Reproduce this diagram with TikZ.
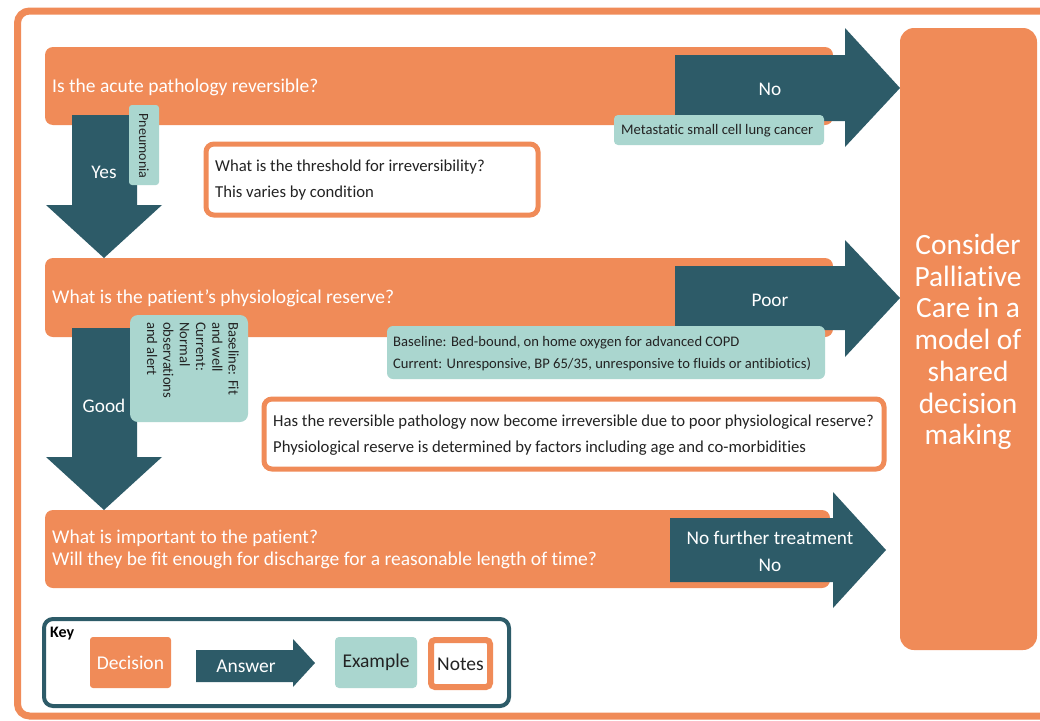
\documentclass[tikz,border=0pt]{standalone}
\usepackage{fontspec}
\setmainfont{Carlito}[Ligatures={NoCommon,NoContextual,NoRequired}]
\definecolor{dec}{RGB}{240,139,88}
\definecolor{ans}{RGB}{45,91,104}
\definecolor{exm}{RGB}{170,214,207}
\definecolor{txt}{RGB}{35,35,35}
\begin{document}
\begin{tikzpicture}[x=1pt,y=-1pt,
  decbar/.style={fill=dec, rounded corners=8pt},
  ansfill/.style={fill=ans},
  exmbox/.style={fill=exm, rounded corners=5pt},
  notebox/.style={draw=dec, line width=5pt, fill=white, rounded corners=8pt},
  dectext/.style={text=white, font=\fontsize{19.5}{22}\selectfont, inner sep=0pt, anchor=west, align=left},
  anstext/.style={text=white, font=\fontsize{19.3}{27}\selectfont, inner sep=0pt, align=center},
  exmtext/.style={text=txt, font=\fontsize{14.6}{22}\selectfont, inner sep=0pt, align=left},
  notetext/.style={text=txt, font=\fontsize{16.7}{25.5}\selectfont, inner sep=0pt, anchor=west, align=left},
  keytext/.style={font=\fontsize{19.5}{22}\selectfont, inner sep=0pt},
]
\useasboundingbox (0,0) rectangle (1040,720);
\clip (0,0) rectangle (1040,720);
\fill[white] (0,0) rectangle (1040,720);
% outer frame
\draw[dec, line width=7pt, rounded corners=12pt] (17.5,11) rectangle (1060,716);

% decision bars
\path[decbar] (45,47) rectangle (833,125);
\path[decbar] (45,258) rectangle (833,337);
\path[decbar] (45,510) rectangle (830,588);

% right arrows
\path[ansfill] (675,55) -- (845,55) -- (845,28) -- (900,88) -- (845,147) -- (845,121) -- (675,121) -- cycle;
\path[ansfill] (675,266) -- (845,266) -- (845,240) -- (900,298) -- (845,357) -- (845,330) -- (675,330) -- cycle;
\path[ansfill] (670,518) -- (833,518) -- (833,492) -- (886,550) -- (833,608) -- (833,582) -- (670,582) -- cycle;

% down arrows
\path[ansfill] (72,115) -- (137,115) -- (137,205) -- (162,205) -- (104,258) -- (46,205) -- (72,205) -- cycle;
\path[ansfill] (72,328) -- (137,328) -- (137,457) -- (162,457) -- (104,510) -- (46,457) -- (72,457) -- cycle;

% decision texts
\node[dectext] (q1) at (52,87) {Is the acute pathology reversible?};
\node[dectext] (q2) at (52,298) {What is the patient’s physiological reserve?};
\node[dectext] (q3) at (52,549) {What is important to the patient?\\Will they be fit enough for discharge for a reasonable length of time?};

% answer texts
\node[anstext] (a1) at (770,89) {No};
\node[anstext] (a2) at (770,300) {Poor};
\node[anstext] (a3) at (770,551) {No further treatment\\No};
\node[anstext] (a4) at (104,172) {Yes};
\node[anstext] (a5) at (104,406) {Good};

% example tags
\path[exmbox, rounded corners=3pt] (129,105) rectangle (159,185);
\node[exmtext, rotate=-90, font=\fontsize{14}{16}\selectfont] (e1) at (144,146) {Pneumonia};
\path[exmbox, rounded corners=8pt] (130,315) rectangle (248,422);
\node[exmtext, rotate=-90, anchor=north west, font=\fontsize{14.6}{16.3}\selectfont] (e2) at (239,322) {Baseline: Fit\\and well\\Current:\\Normal\\observations\\and alert};
\path[exmbox, rounded corners=4pt] (614,115) rectangle (824,145);
\node[exmtext, anchor=west] (e3) at (621,131) {Metastatic small cell lung cancer};
\path[exmbox, rounded corners=6pt] (387,326) rectangle (825,379);
\node[exmtext, anchor=west] (e4) at (393,354) {Baseline: Bed-bound, on home oxygen for advanced COPD\\Current: Unresponsive, BP 65/35, unresponsive to fluids or antibiotics)};

% notes
\path[notebox] (206,144) rectangle (538,215);
\node[notetext] (n1) at (215,180) {What is the threshold for irreversibility?\\This varies by condition};
\path[notebox] (264,399) rectangle (884,469);
\node[notetext] (n2) at (273,435) {Has the reversible pathology now become irreversible due to poor physiological reserve?\\Physiological reserve is determined by factors including age and co-morbidities};

% palliative care box
\path[decbar, rounded corners=14pt] (900,28) rectangle (1037,650);
\node[text=white, font=\fontsize{29.4}{31.7}\selectfont, align=center, inner sep=0pt] (pc) at (968,342) {Consider\\Palliative\\Care in a\\model of\\shared\\decision\\making};

% key
\draw[ans, line width=4pt, rounded corners=9pt] (44,619) rectangle (509,706);
\node[font=\fontsize{16}{18}\selectfont\bfseries, anchor=west, inner sep=0pt] (key) at (50,634) {Key};
\path[decbar, rounded corners=3pt] (90,637) rectangle (171,688);
\node[keytext, text=white] (kd) at (130.5,663) {Decision};
\path[ansfill] (196,650) -- (293,650) -- (293,639) -- (315,663) -- (293,687) -- (293,682) -- (196,682) -- cycle;
\node[keytext, text=white] (ka) at (246,666) {Answer};
\path[exmbox, rounded corners=4pt] (335,637) rectangle (417,688);
\node[keytext, text=txt] (ke) at (376,662) {Example};
\draw[dec, line width=6pt, fill=white, rounded corners=4pt] (431,640) rectangle (490,687);
\node[keytext, text=txt] (kn) at (460.5,664) {Notes};
\end{tikzpicture}
\end{document}
